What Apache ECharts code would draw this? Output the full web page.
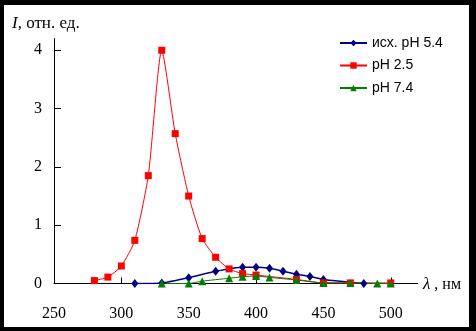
<!DOCTYPE html>
<html>
<head>
<meta charset="utf-8">
<script src="https://cdn.jsdelivr.net/npm/echarts@6/dist/echarts.min.js"></script>
<style>
html,body{margin:0;padding:0;background:#000;width:476px;height:331px;overflow:hidden;}
#c{position:absolute;left:4px;top:5px;width:465px;height:322px;}
</style>
</head>
<body>
<div id="c"></div>
<script>
// Data
var seriesNames = ['исх. pH 5.4', 'pH 2.5', 'pH 7.4'];
var lambdaBlue = [310, 330, 350, 370, 390, 400, 410, 420, 430, 440, 450, 480];
var valuesBlue = [0.0, 0.01, 0.10, 0.21, 0.28, 0.28, 0.26, 0.21, 0.16, 0.12, 0.07, 0.0];
var lambdaRed = [280, 290, 300, 310, 320, 330, 340, 350, 360, 370, 380, 390, 400, 430, 450, 470, 500];
var valuesRed = [0.05, 0.11, 0.30, 0.74, 1.85, 4.0, 2.57, 1.50, 0.77, 0.45, 0.25, 0.17, 0.145, 0.07, 0.01, 0.01, 0.01];
var lambdaGreen = [330, 350, 360, 380, 390, 400, 410, 430, 450, 470, 490, 500];
var valuesGreen = [0.0, 0.0, 0.04, 0.09, 0.115, 0.13, 0.105, 0.06, 0.01, 0.01, 0.0, 0.0];
var xTicks = [250, 300, 350, 400, 450, 500];
var yTicks = [0, 1, 2, 3, 4];

function pairs(xs, ys) { return xs.map(function (x, i) { return [x, ys[i]]; }); }

var serif = 'Liberation Serif';
var chart = echarts.init(document.getElementById('c'));
chart.setOption({
  backgroundColor: '#fff',
  animation: false,
  grid: { left: 50, top: 33.6, width: 363.7, height: 244.9 },
  legend: {
    orient: 'vertical', left: 330, top: 26,
    itemWidth: 27, itemHeight: 8, itemGap: 8.5,
    textStyle: { fontFamily: 'Liberation Sans', fontSize: 14, color: '#000', lineHeight: 14 },
    data: seriesNames
  },
  xAxis: {
    type: 'value', min: 250, max: 520, interval: 50,
    axisLine: { lineStyle: { color: '#000', width: 1 } },
    axisTick: { inside: true, length: 6, lineStyle: { color: '#000' }, customValues: xTicks },
    axisLabel: { customValues: xTicks, margin: 22, fontFamily: serif, fontSize: 16, color: '#000' },
    splitLine: { show: false }
  },
  yAxis: {
    type: 'value', min: 0, max: 4.2, interval: 1,
    axisLine: { show: true, onZero: false, lineStyle: { color: '#000', width: 1 } },
    axisTick: { show: true, inside: true, length: 7, lineStyle: { color: '#000' }, customValues: yTicks },
    axisLabel: { customValues: yTicks, margin: 12, fontFamily: serif, fontSize: 16, color: '#000' },
    splitLine: { show: false }
  },
  graphic: [
    {
      type: 'text', left: 8, top: 10,
      style: {
        text: '{i|I}, отн. ед.',
        font: '17px "Liberation Serif"', fill: '#000',
        rich: { i: { fontStyle: 'italic', fontFamily: serif, fontSize: 17 } }
      }
    },
    {
      type: 'text', left: 419, top: 271,
      style: {
        text: '{i|λ} , нм',
        font: '16px "Liberation Serif"', fill: '#000',
        rich: { i: { fontStyle: 'italic', fontFamily: serif, fontSize: 17 } }
      }
    }
  ],
  series: [
    {
      name: seriesNames[0], type: 'line', smooth: 0.2,
      data: pairs(lambdaBlue, valuesBlue),
      symbol: 'diamond', symbolSize: [7, 9],
      lineStyle: { color: '#000080', width: 1.5 },
      itemStyle: { color: '#000080' }
    },
    {
      name: seriesNames[1], type: 'line', smooth: 0.2,
      data: pairs(lambdaRed, valuesRed),
      symbol: 'rect', symbolSize: 7,
      lineStyle: { color: '#ff0000', width: 1 },
      itemStyle: { color: '#ff0000' }
    },
    {
      name: seriesNames[2], type: 'line', smooth: 0.2,
      data: pairs(lambdaGreen, valuesGreen),
      symbol: 'triangle', symbolSize: 8,
      lineStyle: { color: '#008000', width: 1 },
      itemStyle: { color: '#008000' }
    }
  ]
});
</script>
</body>
</html>
